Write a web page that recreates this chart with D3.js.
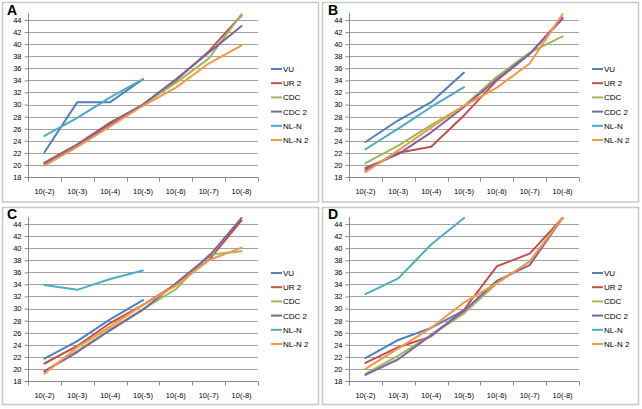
<!DOCTYPE html>
<html>
<head>
<meta charset="utf-8">
<script src="https://cdn.jsdelivr.net/npm/d3@7"></script>
<style>
  html, body { margin: 0; padding: 0; background: #fff; }
  svg { display: block; }
  text { font-family: "Liberation Sans", Arial, sans-serif; fill: #000; }
</style>
</head>
<body>
<svg id="chart" width="642" height="409"></svg>
<script>
// ---- data ----
const categories = ["10(-2)", "10(-3)", "10(-4)", "10(-5)", "10(-6)", "10(-7)", "10(-8)"];
const seriesNames = ["VU", "UR 2", "CDC", "CDC 2", "NL-N", "NL-N 2"];
const seriesColors = ["#4F81BD", "#C0504D", "#9BBB59", "#8064A2", "#4BACC6", "#F79646"];
const yTicks = [18, 20, 22, 24, 26, 28, 30, 32, 34, 36, 38, 40, 42, 44];
const panelLabels = ["A", "B", "C", "D"];

// panel A
const A_VU   = [22.1, 30.4, 30.4, 34.2];
const A_UR2  = [20.4, 23.4, 27.0, 30.0, 34.0, 38.8, 44.8];
const A_CDC  = [20.2, 23.2, 26.6, 30.0, 33.6, 37.6, 45.0];
const A_CDC2 = [20.2, 23.2, 26.8, 30.0, 34.2, 38.6, 43.0];
const A_NLN  = [24.8, 27.8, 31.2, 34.2];
const A_NLN2 = [19.9, 23.0, 26.4, 29.8, 32.8, 36.8, 39.8];
// panel B
const B_VU   = [23.8, 27.4, 30.4, 35.3];
const B_UR2  = [19.2, 22.0, 23.0, 28.2, 34.0, 38.4, 44.4];
const B_CDC  = [20.3, 23.2, 26.6, 29.8, 34.6, 38.6, 41.3];
const B_CDC2 = [19.5, 21.8, 25.4, 29.6, 34.2, 38.4, 44.2];
const B_NLN  = [22.6, 26.0, 29.6, 32.9];
const B_NLN2 = [18.8, 22.4, 26.2, 29.8, 32.8, 36.8, 45.0];
// panel C
const C_VU   = [21.7, 24.6, 28.2, 31.4];
const C_UR2  = [20.9, 23.8, 27.6, 30.6, 34.0, 38.0, 44.6];
const C_CDC  = [19.6, 23.0, 26.6, 29.9, 33.2, 38.9, 39.5];
const C_CDC2 = [19.6, 22.8, 26.4, 29.8, 34.2, 38.6, 45.0];
const C_NLN  = [33.9, 33.1, 34.9, 36.3];
const C_NLN2 = [19.2, 23.6, 27.0, 30.6, 33.8, 38.0, 40.1];
// panel D
const D_VU   = [21.8, 24.8, 26.8, 29.7];
const D_UR2  = [21.0, 23.6, 25.4, 29.8, 37.0, 39.1, 45.0];
const D_CDC  = [19.2, 22.2, 25.6, 29.2, 34.2, 37.8, 45.0];
const D_CDC2 = [19.0, 21.6, 25.6, 29.6, 34.6, 37.2, 45.0];
const D_NLN  = [32.4, 35.0, 40.6, 45.0];
const D_NLN2 = [20.0, 23.4, 26.8, 31.0, 34.2, 37.8, 45.0];

const panelsData = [
  [A_VU, A_UR2, A_CDC, A_CDC2, A_NLN, A_NLN2],
  [B_VU, B_UR2, B_CDC, B_CDC2, B_NLN, B_NLN2],
  [C_VU, C_UR2, C_CDC, C_CDC2, C_NLN, C_NLN2],
  [D_VU, D_UR2, D_CDC, D_CDC2, D_NLN, D_NLN2]
];

// ---- layout ----
const svg = d3.select("#chart");
const offsets = [[0, 0], [321, 0], [0, 204], [321, 204]];
const frames = [[2.5, 2.5, 316, 199.5], [322.5, 2.5, 316, 199.5], [2.5, 207.5, 316, 197], [322.5, 207.5, 316, 197]];
const plotL = 28, plotR = 258, plotT = 14, plotB = 177;
const gridColor = "#8a8a8a";

frames.forEach(f => {
  svg.append("rect").attr("x", f[0]).attr("y", f[1]).attr("width", f[2]).attr("height", f[3])
    .attr("fill", "#fff").attr("stroke", "#c8c8c8").attr("stroke-width", 1.5);
});

const x = d3.scaleBand().domain(categories).range([plotL, plotR]);
const y = d3.scaleLinear().domain([18, 45]).range([plotB, plotT]);

panelsData.forEach((series, pi) => {
  const g = svg.append("g").attr("transform", `translate(${offsets[pi][0]},${offsets[pi][1]})`);

  // gridlines
  g.selectAll("line.grid").data(yTicks.filter(t => t > 18)).enter().append("line")
    .attr("x1", plotL).attr("x2", plotR)
    .attr("y1", d => Math.round(y(d)) + 0.5).attr("y2", d => Math.round(y(d)) + 0.5)
    .attr("stroke", gridColor).attr("stroke-width", 0.8);

  // y axis
  const yAxis = d3.axisLeft(y).tickValues(yTicks).tickSize(4).tickPadding(3);
  const ya = g.append("g").attr("transform", `translate(${plotL + 0.5},0)`).call(yAxis);
  ya.select(".domain").attr("stroke", gridColor).attr("d", `M-0,${plotB}V${plotT - 1}`);
  ya.selectAll(".tick line").attr("stroke", gridColor);
  ya.selectAll(".tick text").style("font-size", "7.5px").style("font-family", "'Liberation Sans', Arial, sans-serif").attr("fill", "#000");

  // x axis
  const xa = g.append("g").attr("transform", `translate(0,${Math.round(plotB) + 0.5})`);
  xa.append("line").attr("x1", plotL).attr("x2", plotR).attr("stroke", gridColor);
  const bounds = categories.map(c => x(c)).concat([plotR]);
  xa.selectAll("line.tk").data(bounds).enter().append("line")
    .attr("x1", d => Math.round(d) + 0.5).attr("x2", d => Math.round(d) + 0.5)
    .attr("y1", 0).attr("y2", 4).attr("stroke", gridColor);
  xa.selectAll("text").data(categories).enter().append("text")
    .attr("x", d => x(d) + x.bandwidth() / 2).attr("y", 16)
    .attr("text-anchor", "middle").style("font-size", "7.5px").text(d => d);

  // lines
  const line = d3.line().x((d, i) => x(categories[i]) + x.bandwidth() / 2).y(d => y(d));
  series.forEach((vals, si) => {
    g.append("path").datum(vals).attr("d", line)
      .attr("fill", "none").attr("stroke", seriesColors[si]).attr("stroke-width", 2)
      .attr("stroke-linejoin", "round").attr("stroke-linecap", "round");
  });

  // legend
  const lg = g.append("g");
  seriesNames.forEach((n, si) => {
    const ly = 69 + si * 14.2;
    lg.append("line").attr("x1", 271).attr("x2", 282).attr("y1", ly).attr("y2", ly)
      .attr("stroke", seriesColors[si]).attr("stroke-width", 2);
    lg.append("text").attr("x", 283).attr("y", ly + 3).style("font-size", "8px").text(n);
  });

  // panel letter
  g.append("text").attr("x", 7).attr("y", 14.5)
    .style("font-size", "14px").style("font-weight", "bold").text(panelLabels[pi]);
});
</script>
</body>
</html>
